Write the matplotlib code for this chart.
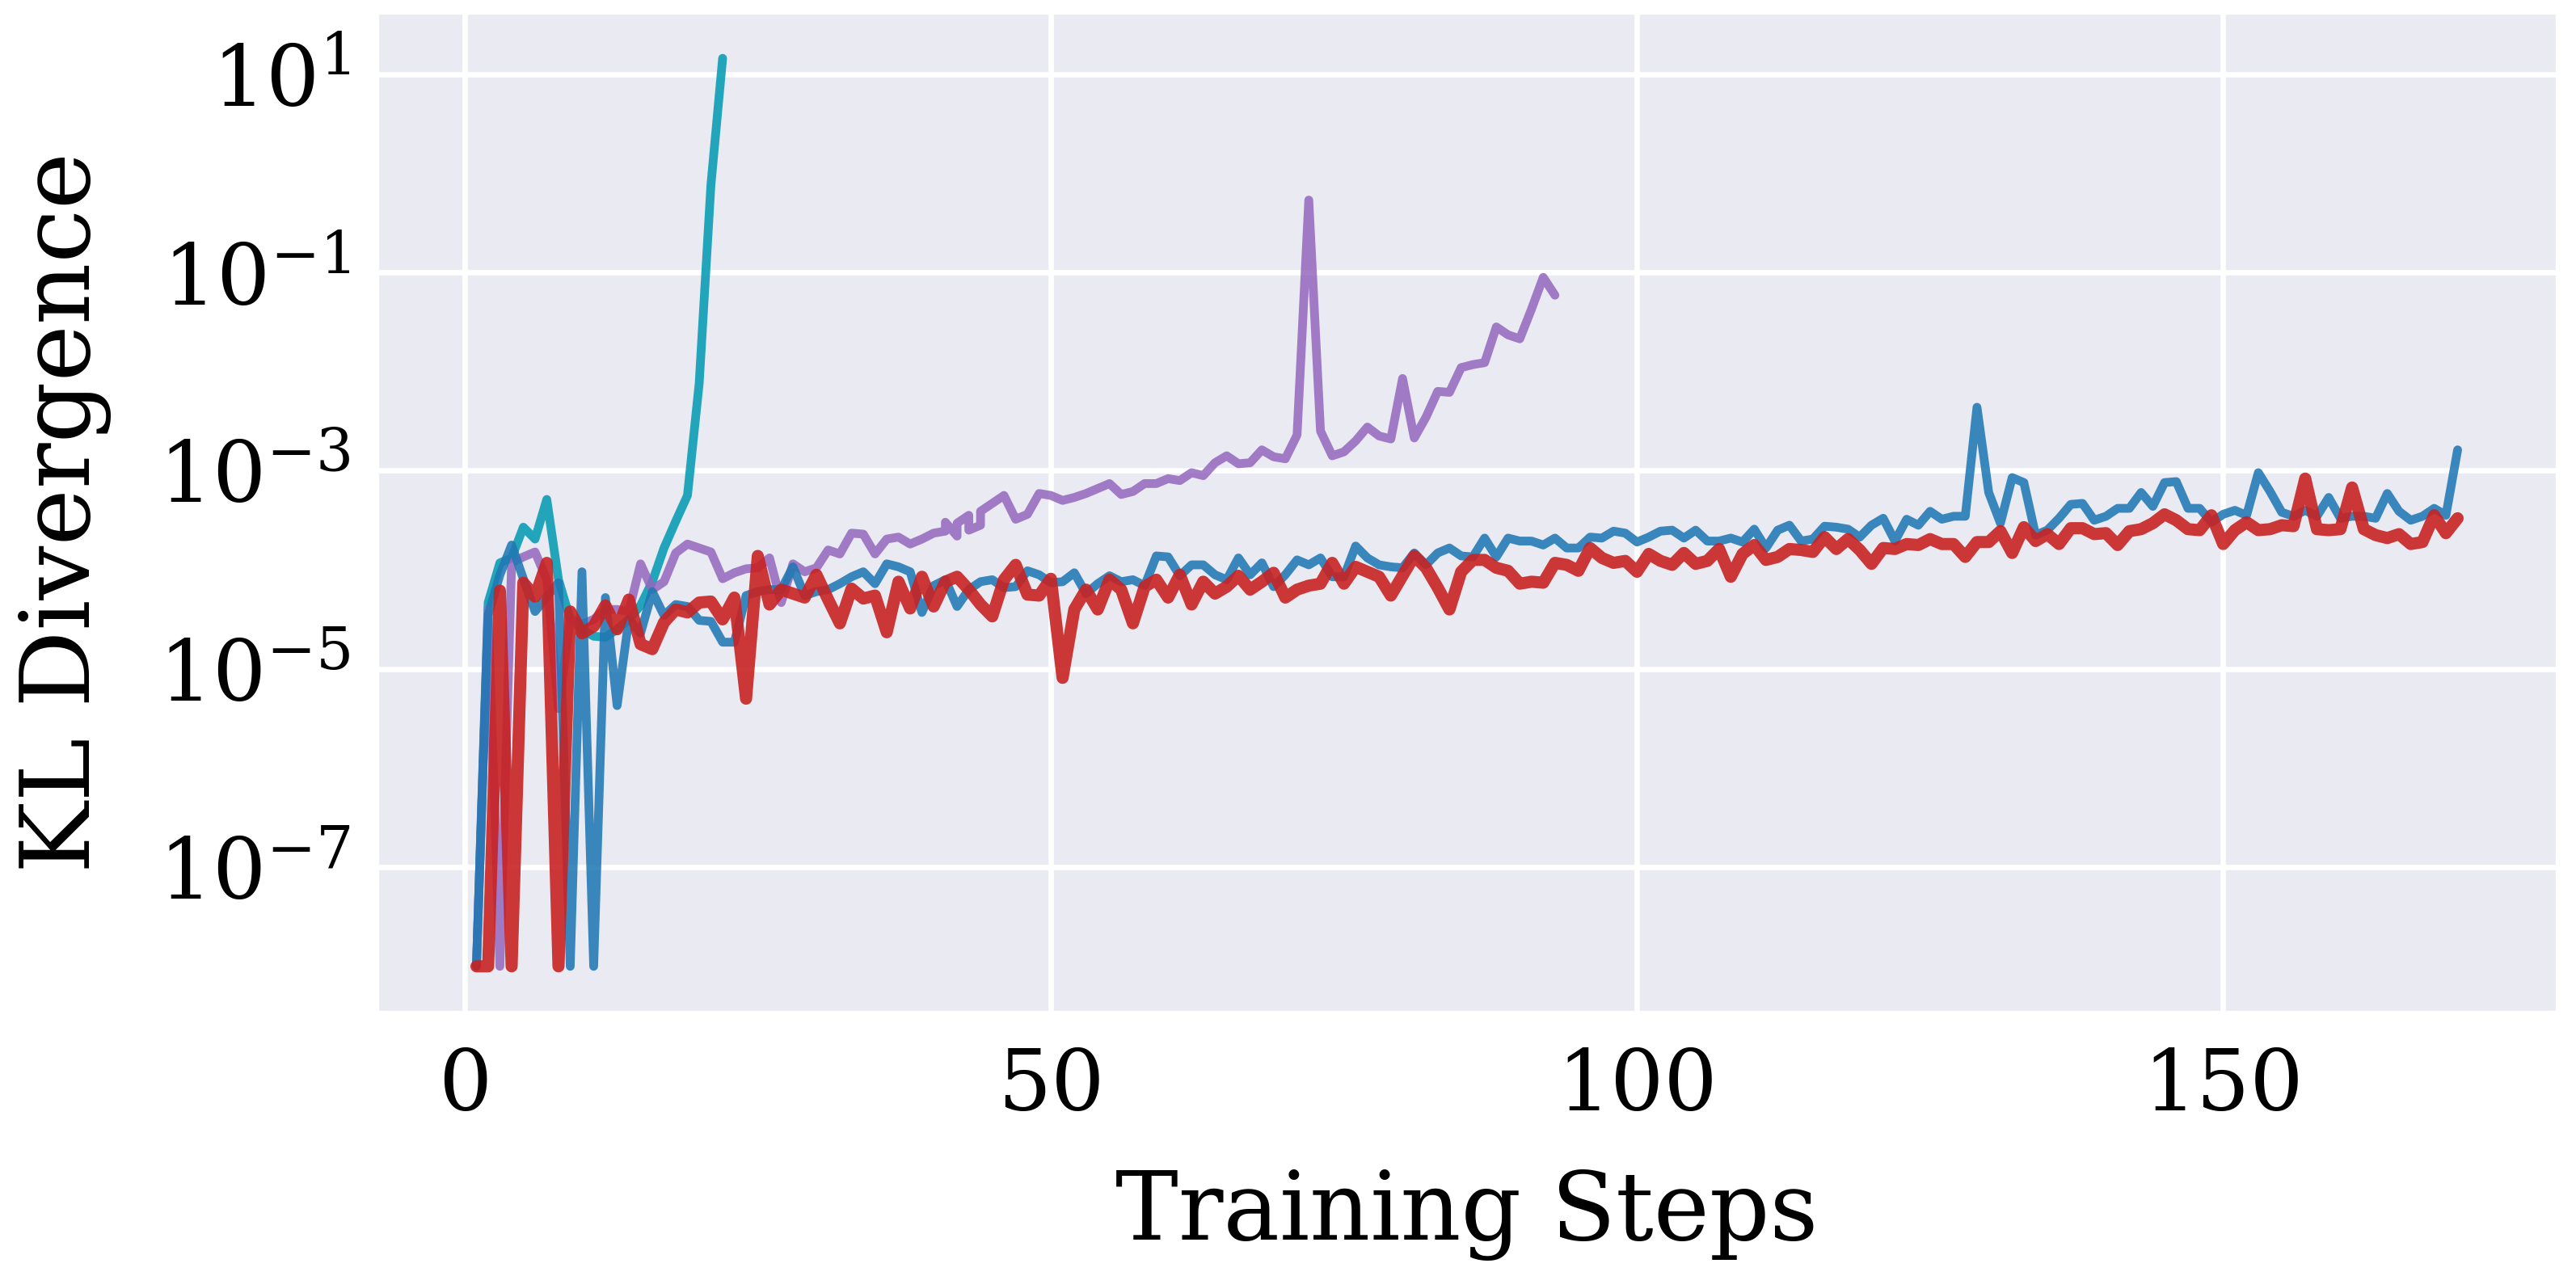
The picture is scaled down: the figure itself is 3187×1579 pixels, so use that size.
import numpy as np
import matplotlib
matplotlib.use("Agg")
import matplotlib.pyplot as plt
import seaborn as sns

# ---------------- data (log10 of KL divergence) ----------------
teal_steps = list(range(1, 23))
teal_log10 = [-8, -4.33, -3.93, -3.88, -3.57, -3.69, -3.29, -4.10, -4.50, -4.60,
              -4.67, -4.68, -4.60, -4.50, -4.36, -4.12, -3.78, -3.51, -3.25, -2.12,
              -0.12, 1.16]

purple_steps = [1, 2, 3, 4, 5, 6, 7, 8, 9, 10, 11, 12, 13, 14, 15, 16, 17, 18, 19, 20,
                21, 22, 23, 24, 25, 26, 27, 28, 29, 30, 31, 32, 33, 34, 35, 36, 37, 38, 39, 40,
                41, 41, 42, 42, 43, 43, 44, 44, 46, 47, 48, 49, 50, 51, 52, 53, 54, 55, 56, 57,
                58, 59, 60, 61, 62, 63, 64, 65, 66, 67, 68, 69, 70, 71, 72, 73, 74, 75, 76, 77,
                78, 79, 80, 81, 82, 83, 84, 85, 86, 87, 88, 89, 90, 91, 92, 93]
purple_log10 = [-8, -4.40, -8, -3.93, -3.87, -3.82, -4.10, -5.40, -4.50, -4.55,
                -4.50, -4.40, -4.40, -4.42, -3.94, -4.20, -4.12, -3.83, -3.74, -3.78,
                -3.82, -4.09, -4.03, -3.99, -3.98, -3.88, -4.33, -3.94, -4.02, -3.98,
                -3.80, -3.84, -3.63, -3.64, -3.84, -3.69, -3.67, -3.74, -3.69, -3.63,
                -3.61, -3.52, -3.66, -3.53, -3.45, -3.60, -3.55, -3.41, -3.25, -3.49,
                -3.44, -3.23, -3.25, -3.30, -3.27, -3.23, -3.18, -3.13, -3.24, -3.21,
                -3.13, -3.13, -3.08, -3.10, -3.02, -3.05, -2.92, -2.85, -2.93, -2.92,
                -2.79, -2.86, -2.88, -2.64, -0.27, -2.60, -2.85, -2.81, -2.70, -2.56,
                -2.65, -2.68, -2.07, -2.67, -2.46, -2.20, -2.21, -1.96, -1.93, -1.91,
                -1.55, -1.63, -1.67, -1.37, -1.05, -1.23]

long_steps = list(range(1, 171))
blue_log10 = [-8, -4.46, -4.05, -3.75, -4.09, -4.42, -4.27, -4.13, -8, -4.02,
              -8, -4.28, -5.37, -4.50, -4.64, -4.22, -4.46, -4.35, -4.37, -4.51,
              -4.52, -4.73, -4.73, -4.26, -4.22, -4.20, -4.20, -3.97, -4.26, -4.22,
              -4.20, -4.14, -4.07, -4.02, -4.14, -3.94, -3.97, -4.02, -4.43, -4.16,
              -4.10, -4.37, -4.20, -4.12, -4.10, -4.18, -4.17, -4.01, -4.05, -4.13,
              -4.12, -4.03, -4.24, -4.14, -4.06, -4.12, -4.10, -4.16, -3.86, -3.87,
              -4.06, -3.95, -3.95, -4.05, -4.10, -3.88, -4.05, -3.93, -4.17, -4.05,
              -3.90, -3.95, -3.88, -4.07, -4.07, -3.76, -3.88, -3.95, -3.97, -3.98,
              -3.83, -3.95, -3.83, -3.78, -3.86, -3.87, -3.68, -3.87, -3.68, -3.71,
              -3.71, -3.75, -3.68, -3.78, -3.78, -3.67, -3.68, -3.61, -3.63, -3.72,
              -3.67, -3.61, -3.60, -3.68, -3.60, -3.71, -3.71, -3.68, -3.72, -3.59,
              -3.78, -3.60, -3.55, -3.71, -3.69, -3.56, -3.57, -3.59, -3.67, -3.55,
              -3.48, -3.71, -3.49, -3.55, -3.41, -3.49, -3.46, -3.46, -2.36, -3.22,
              -3.53, -3.07, -3.12, -3.65, -3.60, -3.48, -3.34, -3.33, -3.50, -3.46,
              -3.38, -3.38, -3.22, -3.36, -3.12, -3.11, -3.38, -3.38, -3.52, -3.44,
              -3.40, -3.45, -3.02, -3.21, -3.42, -3.46, -3.40, -3.46, -3.27, -3.48,
              -3.46, -3.46, -3.48, -3.23, -3.41, -3.50, -3.46, -3.38, -3.45, -2.79]
red_log10 = [-8, -8, -4.21, -8, -4.13, -4.27, -3.93, -8, -4.42, -4.64,
             -4.57, -4.36, -4.60, -4.30, -4.75, -4.80, -4.53, -4.40, -4.43, -4.33,
             -4.32, -4.50, -4.28, -5.30, -3.86, -4.35, -4.20, -4.24, -4.28, -4.05,
             -4.30, -4.54, -4.19, -4.29, -4.26, -4.63, -4.12, -4.39, -4.07, -4.37,
             -4.12, -4.07, -4.20, -4.35, -4.47, -4.10, -3.95, -4.25, -4.26, -4.09,
             -5.09, -4.40, -4.20, -4.40, -4.10, -4.20, -4.54, -4.17, -4.10, -4.28,
             -4.05, -4.35, -4.12, -4.24, -4.17, -4.06, -4.20, -4.12, -4.03, -4.28,
             -4.20, -4.16, -4.14, -3.93, -4.14, -3.97, -4.02, -4.07, -4.26, -4.06,
             -3.86, -3.98, -4.18, -4.40, -4.02, -3.90, -3.90, -3.98, -4.01, -4.14,
             -4.12, -4.13, -3.93, -3.95, -4.01, -3.78, -3.88, -3.93, -3.91, -4.02,
             -3.84, -3.91, -3.95, -3.83, -3.94, -3.91, -3.79, -4.07, -3.84, -3.75,
             -3.90, -3.87, -3.79, -3.80, -3.82, -3.67, -3.79, -3.69, -3.80, -3.94,
             -3.78, -3.79, -3.74, -3.75, -3.69, -3.74, -3.74, -3.87, -3.72, -3.72,
             -3.61, -3.83, -3.57, -3.71, -3.64, -3.74, -3.58, -3.58, -3.64, -3.63,
             -3.75, -3.61, -3.59, -3.53, -3.44, -3.50, -3.59, -3.60, -3.45, -3.74,
             -3.60, -3.52, -3.60, -3.59, -3.55, -3.56, -3.08, -3.59, -3.60, -3.59,
             -3.17, -3.59, -3.65, -3.68, -3.64, -3.74, -3.72, -3.45, -3.63, -3.48]

yticks = [1e-7, 1e-5, 1e-3, 1e-1, 1e1]
xticks = [0, 50, 100, 150]
xlabel = "Training Steps"
ylabel = "KL Divergence"

# ---------------- style ----------------
sns.set_style("darkgrid")
plt.rcParams["font.family"] = ["DejaVu Serif"]
plt.rcParams["mathtext.fontset"] = "dejavuserif"

fig = plt.figure(figsize=(3187 / 300, 1579 / 300), dpi=300)
ax = fig.add_axes([0.1465, 0.2071, 0.846, 0.7828])

series = [
    (teal_steps, teal_log10, "#17a2b8", 2.6, 0.95),
    (purple_steps, purple_log10, "#9467bd", 2.6, 0.85),
    (long_steps, blue_log10, "#1f77b4", 2.6, 0.87),
    (long_steps, red_log10, "#c82222", 3.6, 0.9),
]
for xs, ls, col, lw, a in series:
    ax.plot(xs, 10.0 ** np.array(ls), color=col, lw=lw, alpha=a)

ax.set_yscale("log")
ax.set_yticks(yticks)
ax.minorticks_off()
ax.set_xticks(xticks)
ax.grid(True, color="white", linewidth=1.6)
ax.tick_params(axis="x", labelsize=25, pad=10, length=0, colors="black")
ax.tick_params(axis="y", labelsize=25, pad=8, length=0, colors="black")
ax.set_xlabel(xlabel, fontsize=28, labelpad=12, color="black")
ax.set_ylabel(ylabel, fontsize=28.5, labelpad=14, color="black")

fig.savefig("out.png", dpi=300)
